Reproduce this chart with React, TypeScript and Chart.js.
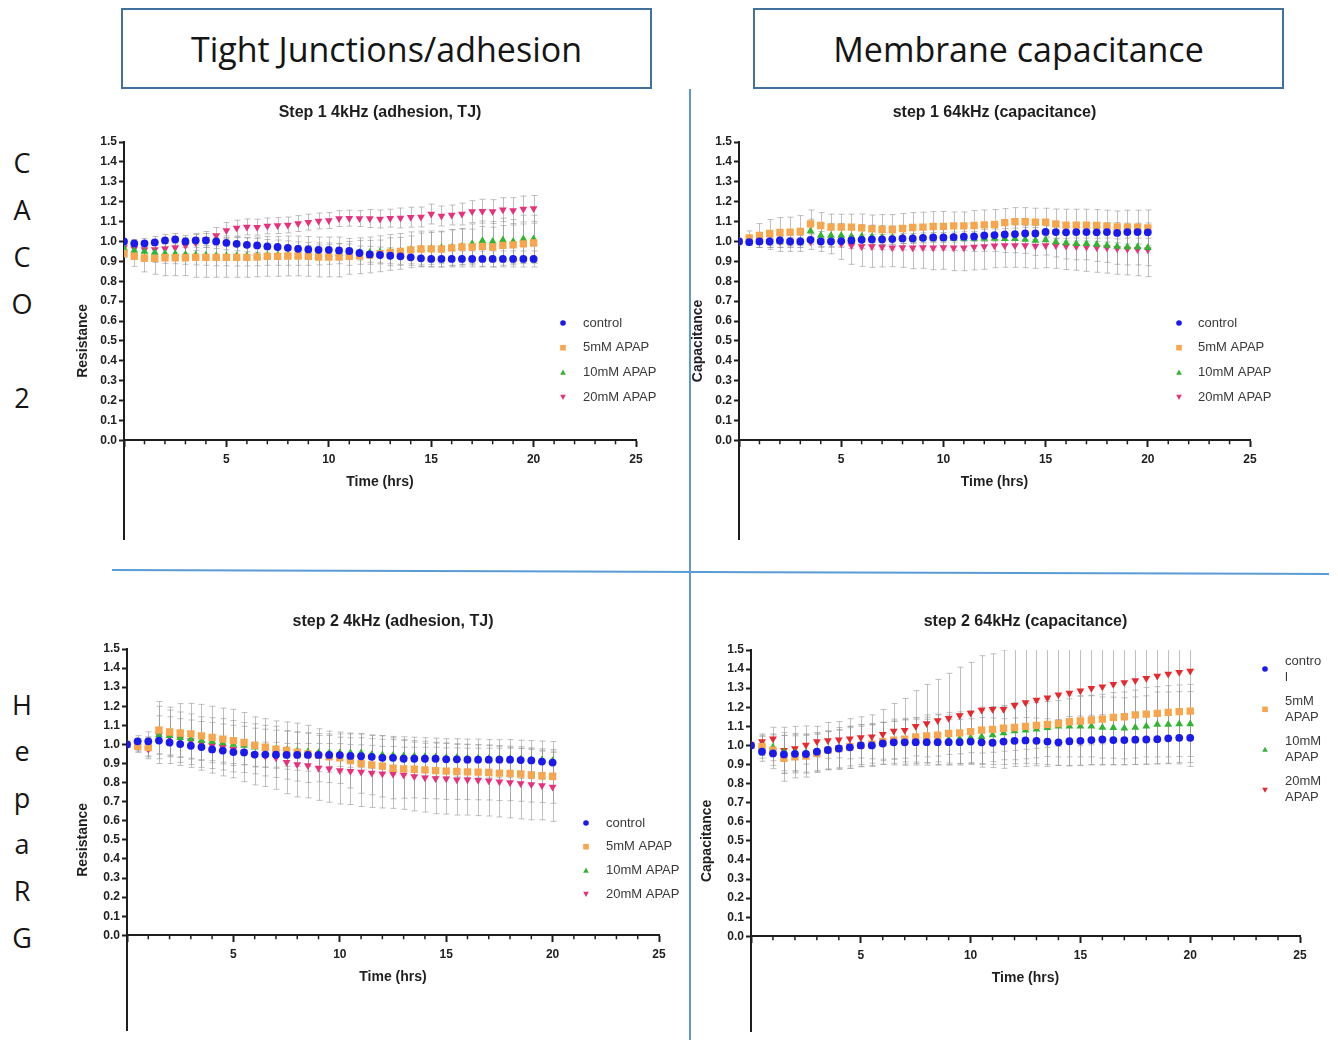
import React, { useEffect, useRef } from 'react';
import { Chart, registerables } from 'chart.js';

Chart.register(...registerables);

// ---------- shared axis values ----------
const TIME = [0, 0.5, 1, 1.5, 2, 2.5, 3, 3.5, 4, 4.5, 5, 5.5, 6, 6.5, 7, 7.5, 8, 8.5, 9, 9.5, 10, 10.5, 11, 11.5, 12, 12.5, 13, 13.5, 14, 14.5, 15, 15.5, 16, 16.5, 17, 17.5, 18, 18.5, 19, 19.5, 20];
const Y_TICKS = [0, 0.1, 0.2, 0.3, 0.4, 0.5, 0.6, 0.7, 0.8, 0.9, 1.0, 1.1, 1.2, 1.3, 1.4, 1.5];
const X_MAJOR_TICKS = [0, 5, 10, 15, 20, 25];
const X_MINOR_TICKS = [1, 2, 3, 4, 6, 7, 8, 9, 11, 12, 13, 14, 16, 17, 18, 19, 21, 22, 23, 24];

const SERIES_NAMES = ['control', '5mM APAP', '10mM APAP', '20mM APAP'];
const LEGEND_LINES = [['control'], ['5mM APAP'], ['10mM APAP'], ['20mM APAP']];
const LEGEND_LINES_WRAPPED = [['contro', 'l'], ['5mM', 'APAP'], ['10mM', 'APAP'], ['20mM', 'APAP']];

// ---------- Step 1 4kHz (adhesion, TJ) ----------
const S1R_CONTROL = [
  1.0, 0.99, 0.99, 0.995, 1.005, 1.01, 1.0, 1.005, 1.005, 1.0,
  0.993, 0.988, 0.983, 0.98, 0.975, 0.972, 0.968, 0.963, 0.96, 0.958,
  0.958, 0.955, 0.952, 0.942, 0.935, 0.932, 0.928, 0.925, 0.92, 0.915,
  0.912, 0.912, 0.912, 0.912, 0.912, 0.912, 0.912, 0.912, 0.912, 0.912, 0.912];
const S1R_5MM = [
  0.94, 0.925, 0.917, 0.915, 0.918, 0.918, 0.918, 0.92, 0.92, 0.92,
  0.92, 0.92, 0.92, 0.922, 0.925, 0.925, 0.927, 0.927, 0.925, 0.922,
  0.922, 0.922, 0.925, 0.928, 0.932, 0.938, 0.945, 0.95, 0.958, 0.962,
  0.963, 0.962, 0.968, 0.972, 0.972, 0.975, 0.972, 0.98, 0.983, 0.988, 0.992];
const S1R_10MM = [
  0.965, 0.955, 0.95, 0.945, 0.94, 0.938, 0.935, 0.932, 0.93, 0.928,
  0.928, 0.927, 0.927, 0.928, 0.93, 0.93, 0.93, 0.93, 0.93, 0.932,
  0.935, 0.938, 0.94, 0.945, 0.945, 0.947, 0.948, 0.95, 0.958, 0.962,
  0.965, 0.968, 0.97, 0.975, 0.988, 1.003, 1.0, 1.007, 1.0, 1.012, 1.012];
const S1R_20MM = [
  0.97, 0.965, 0.96, 0.96, 0.963, 0.968, 0.98, 0.995, 1.01, 1.03,
  1.055, 1.067, 1.073, 1.072, 1.078, 1.08, 1.083, 1.09, 1.097, 1.103,
  1.105, 1.115, 1.117, 1.115, 1.115, 1.113, 1.117, 1.118, 1.122, 1.123,
  1.138, 1.128, 1.133, 1.138, 1.15, 1.152, 1.15, 1.16, 1.155, 1.163, 1.166];
const S1R_CONTROL_SD = [
  0, 0.02, 0.025, 0.03, 0.03, 0.03, 0.03, 0.035, 0.035, 0.035,
  0.035, 0.035, 0.035, 0.035, 0.035, 0.035, 0.035, 0.035, 0.035, 0.035,
  0.035, 0.035, 0.035, 0.035, 0.04, 0.04, 0.04, 0.04, 0.04, 0.04,
  0.04, 0.04, 0.04, 0.04, 0.04, 0.04, 0.04, 0.04, 0.04, 0.04, 0.04];
const S1R_5MM_SD = [
  0.02, 0.05, 0.07, 0.08, 0.09, 0.09, 0.09, 0.1, 0.1, 0.1,
  0.1, 0.1, 0.1, 0.1, 0.1, 0.1, 0.1, 0.1, 0.1, 0.1,
  0.1, 0.1, 0.09, 0.09, 0.09, 0.09, 0.09, 0.09, 0.09, 0.09,
  0.09, 0.09, 0.09, 0.09, 0.09, 0.1, 0.1, 0.1, 0.1, 0.1, 0.1];
const S1R_10MM_SD = [
  0.02, 0.04, 0.05, 0.05, 0.05, 0.05, 0.05, 0.05, 0.05, 0.05,
  0.05, 0.05, 0.05, 0.05, 0.05, 0.05, 0.05, 0.05, 0.05, 0.05,
  0.05, 0.05, 0.06, 0.06, 0.06, 0.06, 0.07, 0.07, 0.07, 0.08,
  0.08, 0.08, 0.09, 0.09, 0.1, 0.1, 0.1, 0.11, 0.11, 0.12, 0.12];
const S1R_20MM_SD = [
  0.02, 0.03, 0.04, 0.04, 0.04, 0.04, 0.04, 0.04, 0.04, 0.04,
  0.04, 0.04, 0.04, 0.04, 0.04, 0.04, 0.04, 0.04, 0.04, 0.04,
  0.04, 0.04, 0.04, 0.04, 0.045, 0.045, 0.045, 0.05, 0.05, 0.05,
  0.05, 0.05, 0.05, 0.055, 0.055, 0.06, 0.06, 0.06, 0.065, 0.065, 0.065];

// ---------- step 1 64kHz (capacitance) ----------
const S1C_CONTROL = [
  1.0, 0.997, 1.0, 1.0, 1.005, 1.0, 1.0, 1.008, 1.0, 1.0,
  1.002, 1.005, 1.008, 1.01, 1.01, 1.012, 1.015, 1.015, 1.018, 1.02,
  1.02, 1.022, 1.024, 1.025, 1.03, 1.032, 1.035, 1.037, 1.04, 1.04,
  1.048, 1.047, 1.046, 1.047, 1.047, 1.046, 1.047, 1.043, 1.047, 1.047, 1.046];
const S1C_5MM = [
  1.0, 1.018, 1.03, 1.04, 1.045, 1.047, 1.05, 1.088, 1.08, 1.072,
  1.072, 1.072, 1.068, 1.063, 1.06, 1.06, 1.065, 1.07, 1.072, 1.075,
  1.076, 1.078, 1.078, 1.08, 1.083, 1.085, 1.095, 1.1, 1.1, 1.097,
  1.097, 1.088, 1.082, 1.082, 1.082, 1.08, 1.077, 1.073, 1.072, 1.072, 1.068];
const S1C_10MM = [
  1.0, 1.0, 1.0, 1.0, 1.0, 1.0, 1.0, 1.052, 1.03, 1.03,
  1.03, 1.025, 1.025, 1.022, 1.02, 1.018, 1.018, 1.017, 1.017, 1.016,
  1.016, 1.015, 1.015, 1.015, 1.015, 1.015, 1.014, 1.013, 1.01, 1.005,
  1.007, 0.997, 0.992, 0.988, 0.988, 0.985, 0.98, 0.975, 0.972, 0.972, 0.968];
const S1C_20MM = [
  1.0, 1.0, 1.0, 1.0, 1.0, 1.0, 1.0, 1.0, 1.0, 0.998,
  0.99, 0.98, 0.975, 0.975, 0.972, 0.968, 0.97, 0.968, 0.97, 0.968,
  0.97, 0.968, 0.968, 0.972, 0.975, 0.978, 0.98, 0.98, 0.98, 0.977,
  0.98, 0.98, 0.977, 0.975, 0.972, 0.97, 0.968, 0.965, 0.962, 0.96, 0.958];
const S1C_CONTROL_SD = [
  0, 0.01, 0.015, 0.02, 0.02, 0.02, 0.02, 0.025, 0.025, 0.025,
  0.025, 0.025, 0.025, 0.025, 0.025, 0.025, 0.025, 0.025, 0.025, 0.025,
  0.025, 0.025, 0.025, 0.025, 0.03, 0.03, 0.03, 0.03, 0.03, 0.03,
  0.03, 0.03, 0.03, 0.03, 0.03, 0.03, 0.03, 0.03, 0.03, 0.03, 0.03];
const S1C_5MM_SD = [
  0, 0.035, 0.06, 0.07, 0.075, 0.075, 0.08, 0.07, 0.065, 0.065,
  0.065, 0.065, 0.07, 0.07, 0.075, 0.075, 0.075, 0.075, 0.075, 0.075,
  0.075, 0.07, 0.07, 0.075, 0.075, 0.075, 0.07, 0.07, 0.07, 0.07,
  0.07, 0.075, 0.08, 0.08, 0.08, 0.08, 0.08, 0.08, 0.085, 0.085, 0.09];
const S1C_10MM_SD = [
  0, 0.02, 0.03, 0.04, 0.05, 0.05, 0.05, 0.06, 0.06, 0.06,
  0.06, 0.06, 0.06, 0.06, 0.06, 0.06, 0.06, 0.06, 0.06, 0.06,
  0.06, 0.06, 0.06, 0.065, 0.065, 0.065, 0.07, 0.07, 0.07, 0.075,
  0.075, 0.075, 0.08, 0.08, 0.08, 0.085, 0.085, 0.09, 0.09, 0.09, 0.09];
const S1C_20MM_SD = [
  0, 0.02, 0.03, 0.03, 0.03, 0.03, 0.03, 0.04, 0.05, 0.06,
  0.08, 0.095, 0.1, 0.105, 0.1, 0.095, 0.1, 0.105, 0.105, 0.11,
  0.11, 0.115, 0.115, 0.115, 0.115, 0.11, 0.11, 0.11, 0.112, 0.112,
  0.112, 0.115, 0.118, 0.12, 0.122, 0.125, 0.127, 0.13, 0.13, 0.132, 0.135];

// ---------- step 2 4kHz (adhesion, TJ) ----------
const S2R_CONTROL = [
  1.0, 1.016, 1.016, 1.02, 1.01, 1.002, 0.993, 0.986, 0.974, 0.968,
  0.96, 0.958, 0.947, 0.947, 0.946, 0.945, 0.945, 0.945, 0.945, 0.945,
  0.944, 0.94, 0.938, 0.935, 0.93, 0.93, 0.925, 0.925, 0.925, 0.925,
  0.922, 0.922, 0.92, 0.92, 0.92, 0.92, 0.92, 0.918, 0.916, 0.91, 0.905];
const S2R_5MM = [
  1.0, 0.99, 0.985, 1.075, 1.065, 1.06, 1.055, 1.045, 1.037, 1.028,
  1.02, 1.01, 0.995, 0.985, 0.975, 0.968, 0.96, 0.95, 0.943, 0.935,
  0.93, 0.916, 0.9, 0.893, 0.886, 0.875, 0.872, 0.87, 0.867, 0.863,
  0.86, 0.858, 0.856, 0.855, 0.853, 0.85, 0.848, 0.845, 0.84, 0.836, 0.833];
const S2R_10MM = [
  1.0, 1.0, 0.99, 1.05, 1.045, 1.035, 1.028, 1.02, 1.015, 1.007,
  1.0, 0.995, 0.985, 0.98, 0.975, 0.97, 0.965, 0.96, 0.957, 0.955,
  0.955, 0.955, 0.955, 0.947, 0.945, 0.942, 0.94, 0.938, 0.935, 0.933,
  0.93, 0.93, 0.928, 0.928, 0.925, 0.925, 0.925, 0.922, 0.92, 0.918, 0.915];
const S2R_20MM = [
  1.0, 0.99, 0.975, 1.05, 1.04, 1.03, 1.02, 1.005, 0.995, 0.985,
  0.975, 0.96, 0.948, 0.94, 0.93, 0.907, 0.895, 0.89, 0.877, 0.872,
  0.863, 0.86, 0.855, 0.85, 0.847, 0.845, 0.84, 0.832, 0.826, 0.822,
  0.82, 0.815, 0.815, 0.812, 0.81, 0.805, 0.8, 0.795, 0.79, 0.785, 0.777];
const S2R_CONTROL_SD = [
  0, 0.03, 0.05, 0.07, 0.07, 0.07, 0.07, 0.07, 0.07, 0.07,
  0.07, 0.065, 0.065, 0.065, 0.065, 0.06, 0.06, 0.06, 0.06, 0.06,
  0.06, 0.06, 0.06, 0.06, 0.06, 0.06, 0.06, 0.06, 0.06, 0.06,
  0.06, 0.06, 0.06, 0.06, 0.06, 0.06, 0.06, 0.06, 0.06, 0.06, 0.06];
const S2R_5MM_SD = [
  0, 0.03, 0.05, 0.15, 0.13, 0.154, 0.16, 0.165, 0.163, 0.162,
  0.164, 0.157, 0.149, 0.15, 0.148, 0.15, 0.152, 0.15, 0.139, 0.135,
  0.135, 0.144, 0.156, 0.157, 0.161, 0.16, 0.154, 0.15, 0.15, 0.148,
  0.148, 0.146, 0.145, 0.145, 0.144, 0.144, 0.143, 0.143, 0.142, 0.141, 0.141];
const S2R_10MM_SD = [
  0, 0.03, 0.05, 0.1, 0.1, 0.1, 0.1, 0.1, 0.1, 0.1,
  0.1, 0.1, 0.1, 0.1, 0.1, 0.1, 0.1, 0.1, 0.1, 0.1,
  0.1, 0.1, 0.1, 0.1, 0.1, 0.1, 0.1, 0.1, 0.1, 0.1,
  0.1, 0.1, 0.1, 0.1, 0.1, 0.1, 0.1, 0.1, 0.1, 0.1, 0.1];
const S2R_20MM_SD = [
  0, 0.03, 0.05, 0.15, 0.14, 0.14, 0.14, 0.14, 0.145, 0.15,
  0.15, 0.155, 0.16, 0.16, 0.165, 0.165, 0.17, 0.17, 0.17, 0.175,
  0.175, 0.175, 0.18, 0.18, 0.18, 0.18, 0.18, 0.18, 0.18, 0.185,
  0.185, 0.185, 0.185, 0.185, 0.185, 0.185, 0.185, 0.185, 0.185, 0.18, 0.18];

// ---------- step 2 64kHz (capacitance) ----------
const S2C_CONTROL = [
  1.0, 0.967, 0.958, 0.953, 0.956, 0.955, 0.967, 0.976, 0.984, 0.99,
  1.0, 1.0, 1.01, 1.016, 1.016, 1.017, 1.017, 1.017, 1.017, 1.017,
  1.02, 1.016, 1.014, 1.02, 1.024, 1.026, 1.024, 1.02, 1.016, 1.022,
  1.024, 1.028, 1.031, 1.028, 1.028, 1.03, 1.031, 1.033, 1.037, 1.04, 1.04];
const S2C_5MM = [
  1.0, 0.993, 0.975, 0.932, 0.94, 0.944, 0.958, 0.975, 0.983, 0.993,
  1.0, 1.007, 1.02, 1.028, 1.033, 1.045, 1.05, 1.054, 1.063, 1.066,
  1.072, 1.08, 1.084, 1.09, 1.094, 1.1, 1.105, 1.11, 1.115, 1.124,
  1.128, 1.133, 1.138, 1.147, 1.15, 1.16, 1.164, 1.168, 1.173, 1.177, 1.18];
const S2C_10MM = [
  1.0, 0.997, 0.99, 0.967, 0.962, 0.96, 0.965, 0.972, 0.98, 0.99,
  0.998, 1.005, 1.012, 1.018, 1.022, 1.025, 1.028, 1.03, 1.03, 1.035,
  1.04, 1.045, 1.055, 1.065, 1.075, 1.08, 1.085, 1.092, 1.1, 1.1,
  1.1, 1.1, 1.094, 1.093, 1.09, 1.094, 1.1, 1.11, 1.11, 1.112, 1.112];
const S2C_20MM = [
  1.0, 1.02, 1.035, 0.975, 0.984, 1.002, 1.02, 1.026, 1.03, 1.035,
  1.042, 1.045, 1.058, 1.075, 1.08, 1.1, 1.115, 1.13, 1.143, 1.157,
  1.17, 1.185, 1.19, 1.19, 1.21, 1.225, 1.238, 1.25, 1.265, 1.275,
  1.287, 1.3, 1.307, 1.32, 1.33, 1.34, 1.352, 1.364, 1.374, 1.383, 1.39];
const S2C_CONTROL_SD = [
  0, 0.05, 0.08, 0.1, 0.1, 0.1, 0.1, 0.1, 0.11, 0.11,
  0.11, 0.11, 0.11, 0.11, 0.12, 0.12, 0.12, 0.12, 0.12, 0.12,
  0.12, 0.13, 0.13, 0.12, 0.12, 0.12, 0.12, 0.12, 0.12, 0.13,
  0.13, 0.13, 0.13, 0.13, 0.13, 0.13, 0.13, 0.13, 0.13, 0.13, 0.13];
const S2C_5MM_SD = [
  0, 0.06, 0.08, 0.12, 0.11, 0.11, 0.1, 0.1, 0.1, 0.1,
  0.1, 0.1, 0.1, 0.1, 0.1, 0.1, 0.11, 0.11, 0.11, 0.11,
  0.11, 0.12, 0.12, 0.12, 0.12, 0.12, 0.12, 0.12, 0.12, 0.12,
  0.13, 0.13, 0.13, 0.13, 0.13, 0.13, 0.14, 0.14, 0.14, 0.14, 0.14];
const S2C_10MM_SD = [
  0, 0.05, 0.07, 0.1, 0.1, 0.1, 0.1, 0.1, 0.1, 0.11,
  0.11, 0.11, 0.11, 0.12, 0.12, 0.12, 0.12, 0.13, 0.13, 0.13,
  0.13, 0.14, 0.14, 0.14, 0.15, 0.15, 0.15, 0.15, 0.16, 0.16,
  0.16, 0.16, 0.16, 0.16, 0.16, 0.16, 0.16, 0.17, 0.17, 0.17, 0.17];
const S2C_20MM_SD = [
  0, 0.04, 0.06, 0.12, 0.116, 0.1, 0.08, 0.094, 0.095, 0.105,
  0.108, 0.115, 0.13, 0.145, 0.166, 0.187, 0.205, 0.216, 0.235, 0.253,
  0.265, 0.285, 0.29, 0.31, 0.32, 0.335, 0.345, 0.36, 0.37, 0.38,
  0.39, 0.4, 0.41, 0.42, 0.43, 0.44, 0.45, 0.46, 0.47, 0.48, 0.5];

// ---------- styling ----------
const FONT = '"Liberation Sans", Arial, Helvetica, sans-serif';
const INK = '#1e1e1e';
const BLUE = '#1a1aef';
const ORANGE = '#f7a64e';
const GREEN = '#2fb52f';
const PINK = '#e8307c';
const RED = '#e8282c';

const MARKERS = [
  { style: 'circle', rotation: 0, radius: 3.9 },
  { style: 'rect', rotation: 0, radius: 5.2 },
  { style: 'triangle', rotation: 0, radius: 4.5 },
  { style: 'triangle', rotation: 180, radius: 4.5 },
];

type PanelSpec = {
  key: string;
  title: string;
  yTitle: string;
  series: number[][];
  errors: number[][];
  colors: string[];
  legendLines: string[][];
  left: number; top: number; width: number; height: number;
  padding: { left: number; right: number; top: number; bottom: number };
  yWidth: number;
  titlePad: { top: number; bottom: number };
  legend: { x: number; textX: number; y: number; dy: number; lh: number };
};

const PANELS: PanelSpec[] = [
  {
    key: 'p1', title: 'Step 1 4kHz (adhesion, TJ)', yTitle: 'Resistance',
    series: [S1R_CONTROL, S1R_5MM, S1R_10MM, S1R_20MM],
    errors: [S1R_CONTROL_SD, S1R_5MM_SD, S1R_10MM_SD, S1R_20MM_SD],
    colors: [BLUE, ORANGE, GREEN, PINK], legendLines: LEGEND_LINES,
    left: 60, top: 95, width: 620, height: 454,
    padding: { left: 15, right: 44, top: 0, bottom: 9 }, yWidth: 49,
    titlePad: { top: 7.5, bottom: 20.3 },
    legend: { x: 503, textX: 523, y: 228, dy: 24.7, lh: 15 },
  },
  {
    key: 'p2', title: 'step 1 64kHz (capacitance)', yTitle: 'Capacitance',
    series: [S1C_CONTROL, S1C_5MM, S1C_10MM, S1C_20MM],
    errors: [S1C_CONTROL_SD, S1C_5MM_SD, S1C_10MM_SD, S1C_20MM_SD],
    colors: [BLUE, ORANGE, GREEN, PINK], legendLines: LEGEND_LINES,
    left: 675, top: 95, width: 620, height: 454,
    padding: { left: 15, right: 45, top: 0, bottom: 9 }, yWidth: 49,
    titlePad: { top: 7.5, bottom: 20.3 },
    legend: { x: 504, textX: 523, y: 228, dy: 24.7, lh: 15 },
  },
  {
    key: 'p3', title: 'step 2 4kHz (adhesion, TJ)', yTitle: 'Resistance',
    series: [S2R_CONTROL, S2R_5MM, S2R_10MM, S2R_20MM],
    errors: [S2R_CONTROL_SD, S2R_5MM_SD, S2R_10MM_SD, S2R_20MM_SD],
    colors: [BLUE, ORANGE, GREEN, PINK], legendLines: LEGEND_LINES,
    left: 60, top: 590, width: 640, height: 450,
    padding: { left: 15, right: 41, top: 0, bottom: 9.3 }, yWidth: 52,
    titlePad: { top: 21.5, bottom: 18.3 },
    legend: { x: 526, textX: 546, y: 233, dy: 23.7, lh: 15 },
  },
  {
    key: 'p4', title: 'step 2 64kHz (capacitance)', yTitle: 'Capacitance',
    series: [S2C_CONTROL, S2C_5MM, S2C_10MM, S2C_20MM],
    errors: [S2C_CONTROL_SD, S2C_5MM_SD, S2C_10MM_SD, S2C_20MM_SD],
    colors: [BLUE, ORANGE, GREEN, RED], legendLines: LEGEND_LINES_WRAPPED,
    left: 684, top: 590, width: 654, height: 451,
    padding: { left: 15, right: 38, top: 0, bottom: 9.3 }, yWidth: 52,
    titlePad: { top: 21.5, bottom: 19.3 },
    legend: { x: 581, textX: 601, y: 79, dy: 40.3, lh: 16 },
  },
];

// ---------- plugins ----------
const errorBarPlugin = {
  id: 'errorBars',
  beforeDatasetsDraw(chart: any) {
    const { ctx, chartArea, scales } = chart;
    const ys = scales.y;
    ctx.save();
    ctx.beginPath();
    ctx.rect(chartArea.left, chartArea.top, chartArea.right - chartArea.left, chartArea.bottom - chartArea.top);
    ctx.clip();
    ctx.strokeStyle = 'rgba(150,150,150,0.6)';
    ctx.lineWidth = 1;
    chart.data.datasets.forEach((ds: any, i: number) => {
      const meta = chart.getDatasetMeta(i);
      const errs: number[] = ds.errors || [];
      meta.data.forEach((pt: any, j: number) => {
        const e = errs[j];
        if (!e) return;
        const v = ds.data[j].y;
        const x = Math.round(pt.x) + 0.5;
        const yt = ys.getPixelForValue(v + e);
        const yb = ys.getPixelForValue(v - e);
        ctx.beginPath();
        ctx.moveTo(x, yt);
        ctx.lineTo(x, yb);
        ctx.moveTo(x - 3, yt);
        ctx.lineTo(x + 3, yt);
        ctx.moveTo(x - 3, yb);
        ctx.lineTo(x + 3, yb);
        ctx.stroke();
      });
    });
    ctx.restore();
  },
};

const minorTickPlugin = {
  id: 'minorTicks',
  afterDraw(chart: any) {
    const { ctx, scales } = chart;
    const xs = scales.x;
    const y0 = scales.y.getPixelForValue(0);
    ctx.save();
    ctx.strokeStyle = INK;
    ctx.lineWidth = 1.5;
    X_MINOR_TICKS.forEach((v) => {
      const x = xs.getPixelForValue(v);
      ctx.beginPath();
      ctx.moveTo(x, y0);
      ctx.lineTo(x, y0 + 4);
      ctx.stroke();
    });
    ctx.restore();
  },
};

function drawMarker(ctx: CanvasRenderingContext2D, idx: number, x: number, y: number, color: string) {
  const r = 2.8;
  ctx.fillStyle = color;
  ctx.beginPath();
  if (idx === 0) {
    ctx.arc(x, y, r, 0, Math.PI * 2);
  } else if (idx === 1) {
    ctx.rect(x - r, y - r, 2 * r, 2 * r);
  } else if (idx === 2) {
    ctx.moveTo(x, y - r);
    ctx.lineTo(x + r, y + r * 0.8);
    ctx.lineTo(x - r, y + r * 0.8);
    ctx.closePath();
  } else {
    ctx.moveTo(x, y + r);
    ctx.lineTo(x + r, y - r * 0.8);
    ctx.lineTo(x - r, y - r * 0.8);
    ctx.closePath();
  }
  ctx.fill();
}

function makeLegendPlugin(spec: PanelSpec) {
  return {
    id: 'figLegend',
    afterDraw(chart: any) {
      const { ctx } = chart;
      const L = spec.legend;
      ctx.save();
      ctx.font = `13px ${FONT}`;
      ctx.textBaseline = 'middle';
      ctx.textAlign = 'left';
      spec.legendLines.forEach((lines, i) => {
        const cy = L.y + i * L.dy;
        drawMarker(ctx, i, L.x, cy, spec.colors[i]);
        ctx.fillStyle = '#3a3a3a';
        lines.forEach((ln, k) => {
          ctx.fillText(ln, L.textX, cy + (k - (lines.length - 1) / 2) * L.lh);
        });
      });
      ctx.restore();
    },
  };
}

function buildConfig(spec: PanelSpec): any {
  const datasets = spec.series.map((vals, i) => ({
    label: SERIES_NAMES[i],
    data: TIME.map((t, j) => ({ x: t, y: vals[j] })),
    errors: spec.errors[i],
    pointStyle: MARKERS[i].style,
    pointRotation: MARKERS[i].rotation,
    pointRadius: MARKERS[i].radius,
    pointBackgroundColor: spec.colors[i],
    pointBorderColor: spec.colors[i],
    pointBorderWidth: 0,
    backgroundColor: spec.colors[i],
    borderColor: spec.colors[i],
    showLine: false,
  }));
  return {
    type: 'scatter',
    data: { datasets },
    plugins: [errorBarPlugin, minorTickPlugin, makeLegendPlugin(spec)],
    options: {
      responsive: false,
      animation: false,
      devicePixelRatio: 1,
      events: [],
      layout: { padding: spec.padding },
      plugins: {
        legend: { display: false },
        tooltip: { enabled: false },
        title: {
          display: true,
          text: spec.title,
          fullSize: false,
          color: INK,
          font: { family: FONT, size: 16, weight: 'bold' },
          padding: spec.titlePad,
        },
      },
      scales: {
        x: {
          type: 'linear',
          min: 0,
          max: 25,
          position: { y: 0 },
          afterBuildTicks: (s: any) => { s.ticks = X_MAJOR_TICKS.map((v) => ({ value: v })); },
          ticks: {
            autoSkip: false,
            maxRotation: 0,
            padding: 6,
            color: INK,
            font: { family: FONT, size: 12, weight: 'bold' },
            callback: (v: any) => (Number(v) === 0 ? '' : String(v)),
          },
          grid: { display: true, drawOnChartArea: false, drawTicks: true, tickLength: 6, tickColor: INK, tickWidth: 2 },
          border: { display: true, color: INK, width: 2 },
          title: {
            display: true,
            text: 'Time (hrs)',
            color: INK,
            font: { family: FONT, size: 14, weight: 'bold' },
            padding: { top: 1, bottom: 0 },
          },
        },
        y: {
          type: 'linear',
          min: -0.5,
          max: 1.5,
          position: 'left',
          afterBuildTicks: (s: any) => { s.ticks = Y_TICKS.map((v) => ({ value: v })); },
          afterFit: (s: any) => { s.width = spec.yWidth; },
          ticks: {
            autoSkip: false,
            padding: 2,
            color: INK,
            font: { family: FONT, size: 12, weight: 'bold' },
            callback: (v: any) => Number(v).toFixed(1),
          },
          grid: { display: true, drawOnChartArea: false, drawTicks: true, tickLength: 5, tickColor: INK, tickWidth: 2 },
          border: { display: true, color: INK, width: 2 },
          title: {
            display: true,
            text: spec.yTitle,
            color: INK,
            font: { family: FONT, size: 14, weight: 'bold' },
            padding: { top: 0, bottom: 0 },
          },
        },
      },
    },
  };
}

function ChartPanel({ spec }: { spec: PanelSpec }) {
  const ref = useRef<HTMLCanvasElement | null>(null);
  useEffect(() => {
    if (!ref.current) return;
    const chart = new Chart(ref.current, buildConfig(spec));
    return () => chart.destroy();
  }, [spec]);
  return (
    <canvas
      ref={ref}
      width={spec.width}
      height={spec.height}
      style={{ position: 'absolute', left: spec.left, top: spec.top, width: spec.width, height: spec.height }}
    />
  );
}

const HEADERS = [
  { text: 'Tight Junctions/adhesion', left: 121 },
  { text: 'Membrane capacitance', left: 753 },
];
const ROW_LABELS = [
  { letters: ['C', 'A', 'C', 'O', '', '2'], top: 138.5, step: 47 },
  { letters: ['H', 'e', 'p', 'a', 'R', 'G'], top: 681.7, step: 46.6 },
];

export default function App() {
  return (
    <div style={{ position: 'absolute', left: 0, top: 0, width: 1338, height: 1040, background: '#ffffff', overflow: 'hidden' }}>
      {HEADERS.map((h) => (
        <div
          key={h.text}
          style={{
            position: 'absolute', left: h.left, top: 8, width: 531, height: 81, boxSizing: 'border-box',
            border: '2px solid #41719c', display: 'flex', alignItems: 'center', justifyContent: 'center',
            fontFamily: '"Open Sans", Lato, sans-serif', fontSize: 34, color: '#151515',
          }}
        >
          {h.text}
        </div>
      ))}
      <div style={{ position: 'absolute', left: 689, top: 89, width: 2, height: 951, background: '#5b9bd5' }} />
      <div style={{ position: 'absolute', left: 112, top: 569, width: 1217, height: 2, background: '#5b9bd5', transform: 'rotate(0.19deg)', transformOrigin: '0 50%' }} />
      {ROW_LABELS.map((r, ri) => (
        <div key={ri} style={{ position: 'absolute', left: 0, top: r.top, width: 44 }}>
          {r.letters.map((ch, i) => (
            <div key={i} style={{ height: r.step, lineHeight: `${r.step}px`, textAlign: 'center', fontFamily: '"Open Sans", Lato, sans-serif', fontSize: 27, color: '#151515' }}>
              {ch}
            </div>
          ))}
        </div>
      ))}
      {PANELS.map((p) => (
        <ChartPanel key={p.key} spec={p} />
      ))}
    </div>
  );
}
